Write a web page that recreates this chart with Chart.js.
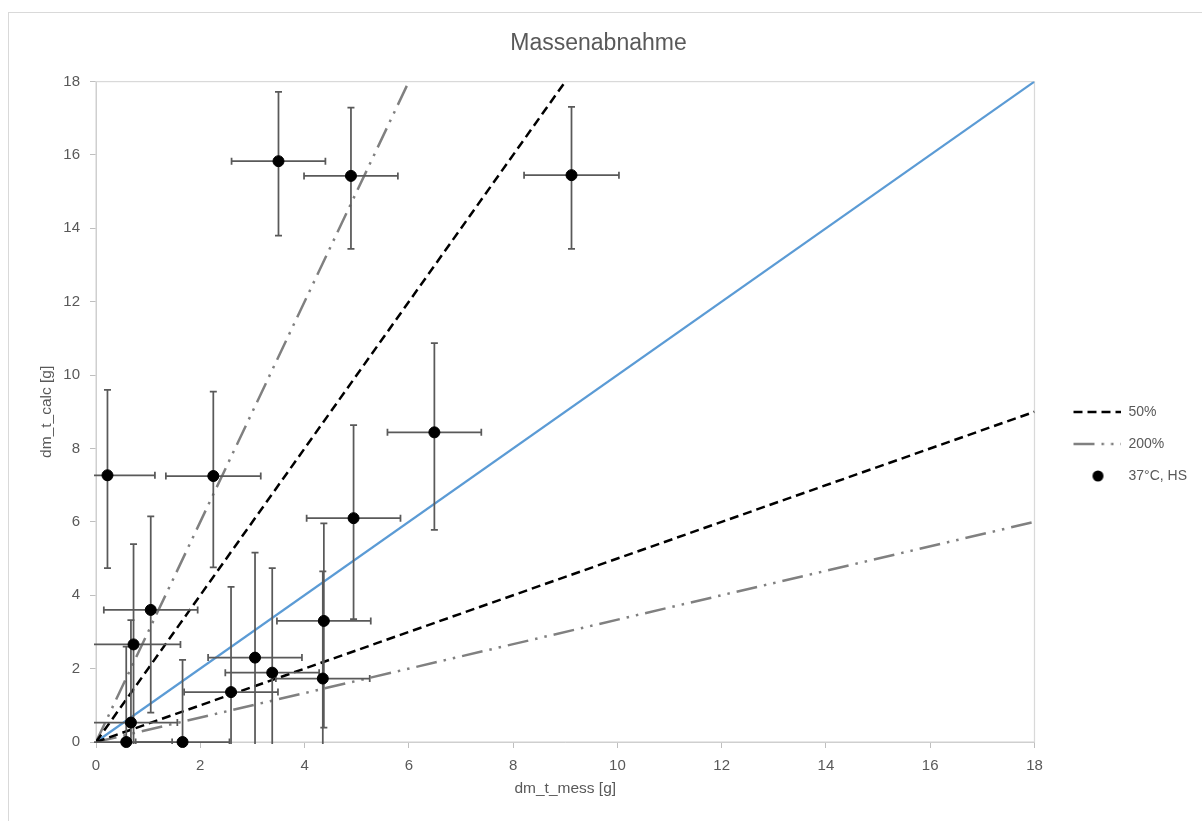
<!DOCTYPE html>
<html lang="de">
  <head>
    <meta charset="UTF-8">
    <title>Massenabnahme</title>
    <script src="https://cdn.jsdelivr.net/npm/chart.js"></script>
    <style>
      body {
        margin: 0;
        padding: 0;
        background: #ffffff;
        overflow: hidden;
        font-family: "Liberation Sans", Arial, sans-serif;
      }

      .frame {
        position: absolute;
        left: 8px;
        top: 12px;
        width: 1300px;
        height: 900px;
        border: 1px solid #d9d9d9;
      }

      .chart-container {
        position: absolute;
        left: 0;
        top: 0;
        width: 1202px;
        height: 821px;
      }
    </style>
  </head>

  <body>
    <div class="frame"></div>
    <div class="chart-container">
      <canvas id="massChart"></canvas>
    </div>

    <script>
      // Messpunkte (dm_t_mess, dm_t_calc) mit Fehlerbalken
      const xMess = [0.22, 2.25, 1.05, 0.72, 0.67, 0.58, 1.66, 2.59, 3.05, 3.38, 4.35, 4.37, 4.94, 6.49, 3.50, 4.89, 9.12];
      const yCalc = [7.27, 7.25, 3.60, 2.66, 0.53, 0.00, 0.00, 1.36, 2.30, 1.89, 1.73, 3.30, 6.10, 8.44, 15.83, 15.43, 15.45];
      const xErr = [0.91, 0.91, 0.90, 0.90, 0.89, 0.88, 0.90, 0.90, 0.90, 0.90, 0.90, 0.90, 0.90, 0.90, 0.90, 0.90, 0.91];
      const yErrPlus = [2.33, 2.30, 2.55, 2.73, 2.79, 2.60, 2.24, 2.87, 2.86, 2.85, 2.92, 2.66, 2.54, 2.43, 1.89, 1.86, 1.86];
      const yErrMinus = [2.53, 2.49, 2.80, 2.73, 2.79, 2.60, 2.24, 2.87, 2.86, 2.85, 2.92, 2.91, 2.75, 2.66, 2.03, 1.99, 2.01];

      // Referenzlinien: Endpunkte
      const lineIdeal = [[0, 0], [18, 18]];
      const line50Upper = [[0, 0], [9, 18]];
      const line50Lower = [[0, 0], [18, 9]];
      const line200Upper = [[0, 0], [6, 18]];
      const line200Lower = [[0, 0], [18, 6]];

      const tickValues = [0, 2, 4, 6, 8, 10, 12, 14, 16, 18];
      const labels = ['37°C, HS', '50%', '200%'];

      const textColor = '#595959';
      const fontFamily = '"Liberation Sans", Arial, sans-serif';
      const dash50 = [9, 5];
      const dash200 = [21, 7, 2.5, 7, 2.5, 7];

      function toXY(pairs) {
        return pairs.map(p => ({ x: p[0], y: p[1] }));
      }

      // kleine Legendensymbole
      function makeIcon(kind) {
        const c = document.createElement('canvas');
        c.width = 69;
        c.height = 14;
        const g = c.getContext('2d');
        if (kind === 'dot') {
          g.fillStyle = '#000000';
          g.beginPath();
          g.arc(45.5, 7, 5.5, 0, Math.PI * 2);
          g.fill();
        } else {
          g.strokeStyle = kind === '50' ? '#000000' : '#808080';
          g.lineWidth = 2.5;
          g.setLineDash(kind === '50' ? dash50 : dash200);
          g.beginPath();
          g.moveTo(21, 7);
          g.lineTo(69, 7);
          g.stroke();
        }
        return c;
      }
      const legendIcons = { 0: makeIcon('dot'), 1: makeIcon('50'), 3: makeIcon('200') };

      const errorBars = {
        id: 'errorBars',
        beforeDatasetDraw(chart, args) {
          if (args.index !== 0) return;
          const { ctx, chartArea, scales } = chart;
          const cap = 3.5;
          ctx.save();
          ctx.beginPath();
          ctx.rect(chartArea.left - 2, chartArea.top - 2, chartArea.width + 4, chartArea.height + 4);
          ctx.clip();
          ctx.strokeStyle = '#595959';
          ctx.lineWidth = 1.75;
          xMess.forEach((xv, i) => {
            const px = scales.x.getPixelForValue(xv);
            const py = scales.y.getPixelForValue(yCalc[i]);
            const xl = scales.x.getPixelForValue(xv - xErr[i]);
            const xr = scales.x.getPixelForValue(xv + xErr[i]);
            const yt = scales.y.getPixelForValue(yCalc[i] + yErrPlus[i]);
            const yb = scales.y.getPixelForValue(yCalc[i] - yErrMinus[i]);
            ctx.beginPath();
            ctx.moveTo(xl, py); ctx.lineTo(xr, py);
            ctx.moveTo(xl, py - cap); ctx.lineTo(xl, py + cap);
            ctx.moveTo(xr, py - cap); ctx.lineTo(xr, py + cap);
            ctx.moveTo(px, yt); ctx.lineTo(px, yb);
            ctx.moveTo(px - cap, yt); ctx.lineTo(px + cap, yt);
            ctx.moveTo(px - cap, yb); ctx.lineTo(px + cap, yb);
            ctx.stroke();
          });
          ctx.restore();
        }
      };

      const plotFrame = {
        id: 'plotFrame',
        beforeDatasetsDraw(chart) {
          const { ctx, chartArea } = chart;
          ctx.save();
          ctx.strokeStyle = '#d9d9d9';
          ctx.lineWidth = 1.25;
          ctx.strokeRect(chartArea.left, chartArea.top, chartArea.width, chartArea.height);
          ctx.restore();
        }
      };

      const ctx = document.getElementById('massChart').getContext('2d');
      new Chart(ctx, {
        type: 'scatter',
        data: {
          datasets: [
            {
              label: labels[0],
              data: xMess.map((v, i) => ({ x: v, y: yCalc[i] })),
              backgroundColor: '#000000',
              borderColor: '#000000',
              pointRadius: 5.5,
              pointHoverRadius: 5.5,
              clip: false,
            },
            {
              label: labels[1],
              data: toXY(line50Lower),
              showLine: true,
              borderColor: '#000000',
              borderWidth: 2.5,
              borderDash: dash50,
              pointRadius: 0,
            },
            {
              label: labels[1] + ' ',
              data: toXY(line50Upper),
              showLine: true,
              borderColor: '#000000',
              borderWidth: 2.5,
              borderDash: dash50,
              pointRadius: 0,
            },
            {
              label: labels[2],
              data: toXY(line200Lower),
              showLine: true,
              borderColor: '#808080',
              borderWidth: 2.5,
              borderDash: dash200,
              pointRadius: 0,
            },
            {
              label: labels[2] + ' ',
              data: toXY(line200Upper),
              showLine: true,
              borderColor: '#808080',
              borderWidth: 2.5,
              borderDash: dash200,
              pointRadius: 0,
            },
            {
              label: '100%',
              data: toXY(lineIdeal),
              showLine: true,
              borderColor: '#5b9bd5',
              borderWidth: 2.25,
              pointRadius: 0,
            },
          ],
        },
        options: {
          responsive: true,
          maintainAspectRatio: false,
          animation: false,
          layout: { padding: { left: 0, right: 5, top: 0, bottom: 0 } },
          plugins: {
            title: {
              display: true,
              text: 'Massenabnahme',
              color: textColor,
              font: { family: fontFamily, size: 23, weight: 'normal' },
              padding: { top: 30, bottom: 24 },
            },
            legend: {
              position: 'right',
              title: {
                display: true,
                text: ' ',
                color: 'rgba(0,0,0,0)',
                font: { size: 10 },
                padding: { top: 55, bottom: 0 },
              },
              labels: {
                usePointStyle: true,
                pointStyleWidth: 69,
                padding: 18,
                color: textColor,
                font: { family: fontFamily, size: 14 },
                generateLabels(chart) {
                  const items = Chart.defaults.plugins.legend.labels.generateLabels(chart);
                  return [1, 3, 0].map(i => {
                    const it = items[i];
                    it.pointStyle = legendIcons[i];
                    return it;
                  });
                },
              },
            },
            tooltip: { enabled: false },
          },
          scales: {
            x: {
              type: 'linear',
              min: 0,
              max: 18,
              afterFit(scale) { scale.height = 79; },
              afterBuildTicks(scale) { scale.ticks = tickValues.map(v => ({ value: v })); },
              title: {
                display: true,
                text: 'dm_t_mess [g]',
                color: textColor,
                font: { family: fontFamily, size: 15.5 },
                padding: { top: 0, bottom: 23 },
              },
              ticks: {
                color: textColor,
                font: { family: fontFamily, size: 15 },
                padding: 9,
                maxRotation: 0,
              },
              grid: {
                drawOnChartArea: false,
                tickLength: 6,
                color: '#bfbfbf',
              },
              border: { color: '#bfbfbf' },
            },
            y: {
              type: 'linear',
              min: 0,
              max: 18,
              afterFit(scale) { scale.width = 96; },
              afterBuildTicks(scale) { scale.ticks = tickValues.map(v => ({ value: v })); },
              title: {
                display: true,
                text: 'dm_t_calc [g]',
                color: textColor,
                font: { family: fontFamily, size: 15.5 },
                padding: { top: 37, bottom: 0 },
              },
              ticks: {
                color: textColor,
                font: { family: fontFamily, size: 15 },
                padding: 10,
              },
              grid: {
                drawOnChartArea: false,
                tickLength: 6,
                color: '#bfbfbf',
              },
              border: { color: '#bfbfbf' },
            },
          },
        },
        plugins: [plotFrame, errorBars],
      });
    </script>
  </body>
</html>
